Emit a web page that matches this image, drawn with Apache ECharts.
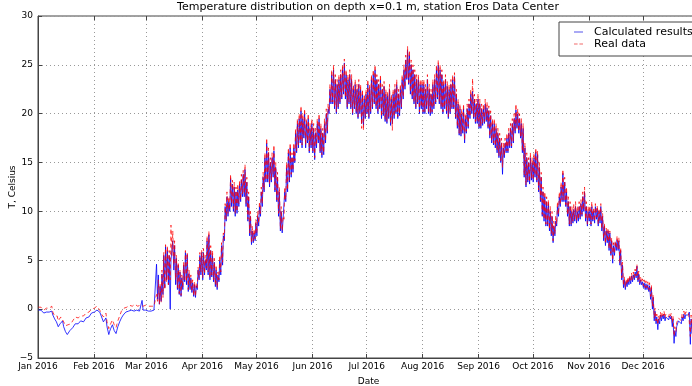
<!DOCTYPE html>
<html>
<head>
<meta charset="utf-8">
<script src="https://cdn.jsdelivr.net/npm/echarts@6/dist/echarts.min.js"></script>
<style>
html,body{margin:0;padding:0;background:#fff;}
#chart{width:692px;height:386px;}
</style>
</head>
<body>
<div id="chart"></div>
<script>
// Month tick labels
const monthNames = ['Jan','Feb','Mar','Apr','May','Jun','Jul','Aug','Sep','Oct','Nov','Dec'];
const yTicks = [-5, 0, 5, 10, 15, 20, 25, 30];

// Calculated results: daily low (early morning) values, one row per month
const calcLow = [
 [-0.1,-0.2,-0.3,-0.4,-0.4,-0.5,-0.3,-0.3,-0.6,-1.0,-1.3,-1.8,-1.5,-1.4,-1.8,-2.3,-2.6,-2.4,-2.3,-1.9,-1.7,-1.5,-1.5,-1.4,-1.3,-1.3,-1.1,-1.0,-0.8,-0.6,-0.4],
 [-0.3,-0.2,-0.1,-0.3,-0.8,-1.3,-1.1,-1.8,-2.6,-2.0,-1.6,-2.2,-2.5,-1.8,-1.3,-0.9,-0.6,-0.4,-0.3,-0.2,-0.2,-0.2,-0.2,-0.2,-0.2,-0.2,-0.1,-0.1,-0.2],
 [-0.2,-0.2,-0.2,-0.2,-0.1,-0.1,1.0,0.5,0.8,1.5,2.2,3.0,2.5,0.0,5.0,4.0,2.5,2.0,1.5,1.3,2.0,2.8,2.5,1.8,2.0,1.7,1.3,1.2,2.0,3.0,3.5],
 [3.0,3.5,4.0,3.5,3.0,3.3,2.8,2.3,2.0,2.8,3.5,4.5,7.0,9.0,9.5,10.0,10.5,10.0,9.5,9.8,10.5,11.0,11.5,11.5,10.5,9.0,7.5,6.6,6.8,7.0],
 [7.5,8.5,9.5,10.5,12.0,13.0,13.0,12.5,13.0,13.5,12.0,11.0,9.5,8.0,7.8,9.0,11.0,12.0,13.0,13.5,14.0,15.0,16.0,16.5,17.0,16.5,17.5,16.5,17.0,16.0,16.5],
 [16.0,15.3,16.5,17.0,16.0,15.5,15.8,17.0,18.0,20.0,21.0,21.0,20.5,20.0,20.5,21.0,21.5,22.0,21.5,20.5,21.0,20.5,19.9,20.5,20.0,19.5,20.0,19.0,18.8,19.5],
 [20.0,19.5,20.0,20.5,21.0,20.5,20.0,20.5,19.5,19.8,19.2,19.0,19.5,18.8,19.0,19.5,20.0,19.5,19.8,20.5,21.5,22.5,23.5,23.0,22.0,21.5,21.0,20.5,21.0,20.0,20.5],
 [20.0,20.0,20.5,20.0,19.8,20.0,20.5,21.0,21.5,21.0,20.5,20.0,20.5,20.0,19.5,20.0,20.5,20.5,19.5,18.5,17.8,17.7,18.0,17.0,18.0,18.5,19.5,20.0,19.5,19.0,19.0],
 [18.5,18.5,18.8,19.0,19.2,18.5,17.5,17.0,16.8,16.5,16.0,15.5,15.0,13.8,15.5,16.0,16.0,16.5,16.5,17.0,18.0,18.5,18.0,17.5,16.0,13.5,12.5,13.0,12.8,13.2],
 [13.0,13.5,13.0,12.0,11.0,9.5,9.0,8.5,8.5,8.0,7.5,6.8,7.5,8.5,9.5,10.5,11.0,11.0,10.5,9.5,8.5,8.5,8.8,9.0,8.8,9.0,9.2,9.5,10.0,9.0,8.5],
 [9.0,8.5,9.0,8.8,9.2,8.5,8.8,8.0,7.0,6.5,6.8,6.0,5.5,4.7,5.5,6.0,6.0,4.5,3.0,2.2,2.0,2.3,2.5,2.6,2.8,3.0,3.2,2.8,2.5,2.5],
 [2.2,2.0,2.0,1.8,1.0,0.0,-1.2,-1.5,-2.1,-1.5,-1.2,-1.0,-1.2,-1.0,-1.1,-1.0,-1.8,-3.5,-2.8,-1.8,-1.4,-1.5,-1.2,-1.0,-0.8,-0.6,-3.6,-2.5,-2.0,-1.8,-1.5]
];
// Calculated results: daily high (afternoon) values
const calcHigh = [
 [0.0,-0.1,-0.2,-0.3,-0.3,-0.4,-0.2,-0.2,-0.4,-0.8,-1.1,-1.6,-1.3,-1.2,-1.6,-2.1,-2.4,-2.2,-2.1,-1.7,-1.5,-1.3,-1.3,-1.2,-1.1,-1.1,-0.9,-0.8,-0.6,-0.4,-0.3],
 [-0.2,-0.1,0.0,-0.2,-0.6,-1.1,-0.9,-1.6,-2.3,-1.8,-1.4,-2.0,-2.2,-1.6,-1.1,-0.7,-0.5,-0.3,-0.2,-0.1,-0.1,-0.1,-0.1,-0.1,-0.1,-0.1,0.9,0.0,-0.1],
 [-0.2,-0.2,-0.2,-0.2,-0.1,4.6,3.5,2.3,3.6,5.5,6.4,6.0,5.5,5.0,7.0,6.5,5.2,4.5,3.8,3.2,4.5,5.8,5.6,3.6,3.2,2.7,2.5,2.4,4.0,5.5,5.8],
 [5.8,5.0,7.0,7.6,6.0,5.5,4.8,4.0,3.5,5.0,6.5,7.5,10.5,11.5,11.0,13.4,12.8,12.5,12.0,12.2,12.8,13.2,13.8,14.3,13.0,11.5,9.5,8.0,7.8,8.8],
 [9.5,10.5,12.0,13.5,15.5,17.0,16.0,15.0,15.5,16.2,14.5,13.5,12.0,10.0,9.0,12.0,14.5,16.0,16.5,15.5,16.5,18.0,19.0,19.5,20.3,19.5,20.0,19.0,19.5,18.5,19.0],
 [18.5,18.0,19.0,19.5,18.5,18.0,19.0,20.0,20.5,22.5,24.0,24.5,23.5,23.0,23.5,24.0,24.5,25.2,24.0,23.5,24.0,23.5,22.5,23.0,22.5,23.0,22.5,22.0,21.5,22.0],
 [23.0,22.5,23.5,24.0,24.5,23.5,23.0,23.5,22.5,22.8,22.0,21.8,22.5,21.5,22.0,22.5,23.0,22.0,22.5,23.5,24.5,25.5,26.5,26.0,25.0,24.5,24.0,23.5,23.5,23.0,23.0],
 [23.0,22.5,23.5,22.5,22.0,23.0,23.5,24.5,25.0,24.5,24.0,23.0,23.5,22.8,22.5,23.0,23.5,23.8,22.0,21.0,20.5,20.0,20.5,19.5,20.5,21.0,22.0,22.3,21.5,21.0,21.5],
 [21.0,20.5,20.5,21.0,20.6,20.3,19.8,19.0,19.0,18.5,18.0,17.5,17.0,16.5,17.0,17.5,18.0,18.5,19.0,19.5,20.4,20.0,19.5,19.0,18.5,16.5,15.5,15.0,15.5,15.0],
 [15.5,16.1,15.8,14.5,13.5,12.0,11.5,11.0,10.8,10.0,9.5,8.5,9.0,10.5,11.5,12.5,13.9,13.0,12.0,11.0,10.5,10.0,10.2,10.5,10.0,10.5,10.8,11.5,12.0,10.5,10.0],
 [10.2,10.5,10.0,10.5,10.3,10.0,10.5,9.5,8.5,8.0,8.0,7.8,7.0,6.5,6.8,7.1,7.0,6.0,4.5,3.0,2.8,3.0,3.2,3.4,3.5,3.8,4.4,3.6,3.0,2.8],
 [2.7,2.6,2.5,2.4,2.2,1.2,-0.2,-0.8,-1.0,-0.6,-0.6,-0.5,-0.8,-0.6,-0.7,-0.7,-1.0,-2.2,-1.8,-1.2,-1.0,-0.8,-0.5,-0.6,-0.4,-0.3,-1.0,-1.5,-1.2,-1.0,-0.8]
];
// Real data: daily low values
const realLow = [
 [0.2,0.1,0.0,-0.1,0.0,-0.1,0.1,0.2,-0.3,-0.7,-0.9,-1.2,-1.0,-1.0,-1.3,-1.7,-1.8,-1.7,-1.5,-1.2,-1.0,-1.0,-0.9,-0.9,-0.8,-0.7,-0.6,-0.5,-0.3,-0.1,0.0],
 [0.1,0.2,0.2,-0.1,-0.5,-0.8,-0.6,-1.3,-2.0,-1.5,-1.1,-1.6,-1.9,-1.2,-0.7,-0.2,0.0,0.1,0.2,0.3,0.3,0.3,0.4,0.3,0.3,0.3,0.4,0.3,0.3],
 [0.3,0.3,0.3,0.3,0.3,0.3,0.8,0.5,0.7,1.2,2.0,2.8,2.5,3.0,5.5,4.5,3.0,2.2,1.6,1.4,2.2,3.0,2.8,2.0,2.2,1.8,1.4,1.3,2.2,3.2,3.8],
 [3.2,3.6,4.2,3.8,3.2,3.5,3.0,2.5,2.2,3.0,3.8,4.8,7.2,9.2,9.8,10.2,10.8,10.3,9.8,10.0,10.8,11.2,11.8,11.8,10.8,9.2,7.8,6.8,7.0,7.2],
 [7.8,8.8,9.8,10.8,12.2,13.2,13.2,12.8,13.2,13.8,12.2,11.2,9.8,8.2,8.0,9.2,11.2,12.2,13.2,13.8,14.2,15.2,16.2,16.8,17.2,16.8,17.8,16.8,17.2,16.2,16.8],
 [16.2,15.5,16.8,17.2,16.2,15.8,16.0,17.2,18.2,20.2,21.2,21.2,20.7,20.2,20.7,21.2,21.7,22.2,21.7,20.7,21.2,20.7,20.0,20.7,20.2,19.7,20.2,18.5,18.3,19.7],
 [20.2,19.7,20.2,20.7,21.2,20.7,20.2,20.7,19.7,20.0,19.4,19.2,19.7,19.0,18.3,19.7,20.2,19.7,20.0,20.7,21.7,22.7,23.7,23.2,22.2,21.7,21.2,20.7,21.2,20.2,20.7],
 [20.2,20.2,20.7,20.2,20.0,20.2,20.7,21.2,21.7,21.2,20.7,20.2,20.7,20.2,19.7,20.2,20.7,20.7,19.7,18.7,18.0,17.9,18.2,17.3,18.2,18.7,19.7,20.2,19.7,19.2,19.2],
 [18.7,18.7,19.0,19.2,19.4,18.7,17.7,17.2,17.0,16.7,16.2,15.7,15.2,14.5,15.7,16.2,16.2,16.7,16.7,17.2,18.2,18.7,18.2,17.7,16.2,13.7,12.7,13.2,13.0,13.4],
 [13.2,13.7,13.2,12.2,11.2,9.7,9.2,8.7,8.7,8.2,7.7,7.0,7.7,8.7,9.7,10.7,11.2,11.2,10.7,9.7,8.7,8.7,9.0,9.2,9.0,9.2,9.4,9.7,10.2,9.2,8.7],
 [9.2,8.7,9.2,9.0,9.4,8.7,9.0,8.2,7.2,6.7,7.0,6.2,5.7,5.0,5.7,6.2,6.2,4.7,3.2,2.4,2.2,2.5,2.7,2.8,3.0,3.2,3.4,3.0,2.7,2.7],
 [2.4,2.2,2.2,2.0,1.3,0.3,-0.9,-1.2,-1.6,-1.2,-0.9,-0.7,-0.9,-0.7,-0.8,-0.7,-1.4,-2.8,-2.3,-1.4,-1.1,-1.2,-0.9,-0.7,-0.5,-0.3,-2.8,-2.0,-1.6,-1.4,-1.2]
];
// Real data: daily high values
const realHigh = [
 [0.3,0.2,0.1,0.0,0.1,0.0,0.2,0.3,-0.1,-0.5,-0.7,-1.0,-0.8,-0.8,-1.1,-1.5,-1.6,-1.5,-1.3,-1.0,-0.8,-0.8,-0.7,-0.7,-0.6,-0.5,-0.4,-0.3,-0.1,0.0,0.1],
 [0.2,0.3,0.3,0.1,-0.3,-0.6,-0.4,-1.1,-1.8,-1.3,-0.9,-1.4,-1.7,-1.0,-0.5,0.0,0.1,0.2,0.3,0.4,0.4,0.4,0.5,0.4,0.4,0.4,0.5,0.4,0.4],
 [0.3,0.3,0.3,0.3,0.3,1.5,3.0,2.6,4.0,5.8,6.6,6.5,6.0,8.6,8.0,7.0,5.5,4.8,4.0,3.5,4.8,6.0,5.8,4.0,3.5,3.0,2.8,2.6,4.3,5.8,6.0],
 [6.2,5.5,7.5,8.0,6.5,6.0,5.2,4.5,3.8,5.5,6.8,7.8,10.8,12.0,11.5,13.8,13.2,13.0,12.5,12.8,13.2,13.8,14.2,14.8,13.5,12.0,10.0,8.5,8.2,9.2],
 [10.0,11.0,12.5,14.0,16.0,17.5,16.5,15.5,16.0,16.8,15.0,14.0,12.5,10.5,9.5,12.5,15.0,16.5,17.0,16.0,17.0,18.5,19.5,20.0,20.8,20.0,20.5,19.5,20.0,19.0,19.5],
 [19.0,18.5,19.5,20.0,19.0,18.5,19.5,20.5,21.0,23.0,24.5,25.0,24.0,23.5,24.0,24.5,25.0,25.6,24.5,24.0,24.5,24.0,23.0,23.5,23.0,23.5,23.0,22.5,22.0,22.5],
 [23.5,23.0,24.0,24.5,25.0,24.0,23.5,24.0,23.0,23.3,22.5,22.3,23.0,22.0,22.5,23.0,23.5,22.5,23.0,24.0,25.0,26.0,26.9,26.5,25.5,25.0,24.5,24.0,24.0,23.5,23.5],
 [23.5,23.0,24.0,23.0,22.5,23.5,24.0,25.0,25.5,25.0,24.5,23.5,24.0,23.3,23.0,23.5,24.0,24.2,22.5,21.5,21.0,20.5,21.0,20.0,21.0,21.5,22.5,23.6,22.0,21.5,22.0],
 [21.5,21.0,21.0,21.5,21.2,20.8,20.3,19.5,19.5,19.0,18.5,18.0,17.5,17.0,17.5,18.0,18.5,19.0,19.5,20.0,21.0,20.5,20.0,19.5,19.0,17.0,16.0,15.5,16.0,15.5],
 [16.0,16.5,16.2,15.0,14.0,12.5,12.0,11.5,11.2,10.5,10.0,9.0,9.5,11.0,12.0,13.0,14.3,13.5,12.5,11.5,11.0,10.5,10.7,11.0,10.5,11.0,11.2,12.0,12.5,11.0,10.5],
 [10.6,11.0,10.4,10.8,10.6,10.3,10.8,9.8,8.8,8.3,8.3,8.0,7.3,6.8,7.0,7.5,7.3,6.3,4.8,3.3,3.1,3.3,3.5,3.7,3.8,4.1,4.6,3.9,3.3,3.1],
 [3.0,2.9,2.8,2.7,2.5,1.5,0.1,-0.5,-0.7,-0.3,-0.3,-0.2,-0.5,-0.3,-0.4,-0.4,-0.7,-1.8,-1.4,-0.9,-0.7,-0.5,-0.2,-0.3,-0.1,-0.1,-0.6,-1.1,-0.9,-0.7,-0.5]
];

const HOUR = 3600000;
function buildSeries(lowRows, highRows) {
  const out = [];
  lowRows.forEach((row, m) => {
    row.forEach((v, i) => {
      const dayStart = Date.UTC(2016, m, 1 + i);
      out.push([dayStart + 5 * HOUR, v]);
      out.push([dayStart + 15 * HOUR, highRows[m][i]]);
    });
  });
  return out;
}

const FONT = 'DejaVu Sans';
const chart = echarts.init(document.getElementById('chart'), null, {renderer: 'canvas'});
const xMin = Date.UTC(2016, 0, 1), xMax = Date.UTC(2017, 0, 1);
const axisColor = '#444';
const xCommon = {
  type: 'time', min: xMin, max: xMax, splitNumber: 12,
  minInterval: 28 * 24 * HOUR, maxInterval: 31 * 24 * HOUR
};
chart.setOption({
  useUTC: true,
  animation: false,
  backgroundColor: '#fff',
  title: {
    text: 'Temperature distribution on depth x=0.1 m, station Eros Data Center',
    left: 368, top: 2, textAlign: 'center', padding: 0,
    textStyle: {fontFamily: FONT, fontSize: 11, fontWeight: 'normal', color: '#000'}
  },
  legend: {
    data: [
      {name: 'Calculated results', icon: 'rect', itemStyle: {color: '#8c8cf2'}},
      {name: 'Real data', icon: 'path://M0,0h4v1h-4z M6,0h4v1h-4z', itemStyle: {color: '#f26a6a'}}
    ],
    orient: 'vertical', left: 559, top: 22,
    padding: [4, 12, 6, 15], itemGap: 0, itemWidth: 9, itemHeight: 1.5,
    backgroundColor: '#fff', borderColor: '#444', borderWidth: 1, borderRadius: 0,
    textStyle: {fontFamily: FONT, fontSize: 11, color: '#000', lineHeight: 12, padding: [0, 0, 0, 6]}
  },
  grid: {left: 38, top: 16, right: -7, bottom: 28, outerBoundsMode: 'none', containLabel: false,
    show: true, borderColor: axisColor, borderWidth: 1, backgroundColor: 'transparent'},
  xAxis: [Object.assign({}, xCommon, {
    position: 'bottom',
    name: 'Date', nameLocation: 'middle', nameGap: 19, nameMoveOverlap: false,
    nameTextStyle: {fontFamily: FONT, fontSize: 9, color: '#000'},
    axisLine: {show: true, onZero: false, lineStyle: {color: axisColor, width: 1}},
    axisTick: {show: true, inside: true, length: 4, lineStyle: {color: axisColor}},
    axisLabel: {
      fontFamily: FONT, fontSize: 9, color: '#000', margin: 4, showMaxLabel: false, hideOverlap: false,
      formatter: function (v) { const d = new Date(v); return monthNames[d.getUTCMonth()] + ' ' + d.getUTCFullYear(); }
    },
    splitLine: {show: true, lineStyle: {color: '#999', type: [1, 3], width: 1}}
  }), Object.assign({}, xCommon, {
    position: 'top',
    axisLine: {show: false, onZero: false},
    axisTick: {show: true, inside: true, length: 4, lineStyle: {color: axisColor}},
    axisLabel: {show: false}, splitLine: {show: false}
  })],
  yAxis: {
    type: 'value', min: -5, max: 30, interval: 5,
    name: 'T, Celsius', nameLocation: 'middle', nameGap: 21, nameRotate: 90, nameMoveOverlap: false,
    nameTextStyle: {fontFamily: FONT, fontSize: 9, color: '#000'},
    axisLine: {show: true, onZero: false, lineStyle: {color: axisColor, width: 1}},
    axisTick: {show: true, inside: true, length: 4, lineStyle: {color: axisColor}},
    axisLabel: {fontFamily: FONT, fontSize: 9, color: '#000', margin: 5,
      formatter: function (v) { return yTicks.indexOf(v) >= 0 ? String(v).replace('-', '\u2212') : ''; }},
    splitLine: {show: true, lineStyle: {color: '#999', type: [1, 3], width: 1}}
  },
  series: [
    {
      name: 'Calculated results', type: 'line', xAxisIndex: 0,
      data: buildSeries(calcLow, calcHigh),
      symbol: 'none', showSymbol: false, sampling: null,
      lineStyle: {color: '#0000ff', width: 1, opacity: 0.8},
      itemStyle: {color: '#0000ff'},
      z: 2
    },
    {
      name: 'Real data', type: 'line', xAxisIndex: 0,
      data: buildSeries(realLow, realHigh),
      symbol: 'none', showSymbol: false, sampling: null,
      lineStyle: {color: '#ff0000', width: 1, opacity: 0.75, type: [4, 3]},
      itemStyle: {color: '#ff0000'},
      z: 3
    }
  ]
});
</script>
</body>
</html>
